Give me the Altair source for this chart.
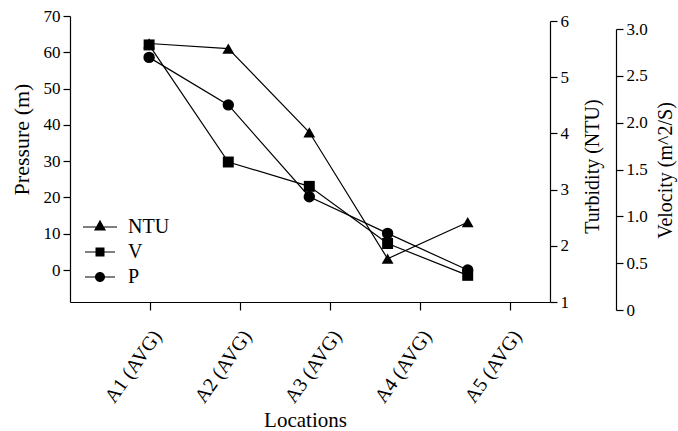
import json
import altair as alt
import pandas as pd

# ---- data ----
locations = ["A1 (AVG)", "A2 (AVG)", "A3 (AVG)", "A4 (AVG)", "A5 (AVG)"]
tick_pos = [1, 2, 3, 4, 5]
point_pos = [0.99, 1.87, 2.77, 3.64, 4.53]
pressure = [58.6, 45.5, 20.2, 10.1, 0.0]      # P (m)
turbidity = [5.60, 5.51, 4.02, 1.77, 2.42]    # NTU
velocity = [2.83, 1.58, 1.32, 0.71, 0.37]     # V (m^2/S)
series = ["NTU", "V", "P"]

pressure_ticks = [0, 10, 20, 30, 40, 50, 60, 70]
turbidity_ticks = [1, 2, 3, 4, 5, 6]
velocity_ticks = [0, 0.5, 1.0, 1.5, 2.0, 2.5, 3.0]

df = pd.DataFrame({
    "pos": point_pos,
    "loc": locations,
    "P": pressure,
    "NTU": turbidity,
    "V": velocity,
})
legend_df = pd.DataFrame({"series": series, "pos": point_pos[:3]})

FONT = "'Liberation Serif', 'DejaVu Serif', serif"
W, H = 480, 286

label_expr = json.dumps(locations) + "[datum.value - 1]"
x_enc = alt.X(
    "pos:Q",
    scale=alt.Scale(domain=[1 - 80 / 90, 5 + 40 / 90], nice=False, zero=False),
    axis=alt.Axis(
        values=tick_pos, labelExpr=label_expr, labelAngle=-55,
        labelAlign="right", labelBaseline="middle", labelOffset=7,
        labelPadding=22, labelFontSize=20, tickSize=8, title="Locations",
        titleX=235, titleY=118, titleAlign="center", titleBaseline="middle",
        titleFontSize=21, grid=False,
    ),
)

common_axis = dict(grid=False, labelFontSize=17, titleFontSize=20, tickSize=7,
                   labelPadding=3, titleAlign="center", titleBaseline="middle",
                   titleAngle=270)


def layer(field, shape, size, y_scale, y_axis):
    y = alt.Y(f"{field}:Q", scale=y_scale, axis=y_axis)
    base = alt.Chart(df).encode(x=x_enc, y=y)
    line = base.mark_line(color="black", strokeWidth=1.2)
    pts = base.mark_point(filled=True, color="black", opacity=1, shape=shape, size=size)
    return line + pts


p_axis = dict(common_axis)
p_axis["titleFontSize"] = 22
p_layer = layer(
    "P", "circle", 130,
    alt.Scale(domain=[-8.8, 70], nice=False, zero=False),
    alt.Axis(values=pressure_ticks, orient="left", title="Pressure (m)",
             titleX=-49, titleY=123, **p_axis),
)
ntu_layer = layer(
    "NTU", "triangle-up", 140,
    alt.Scale(domain=[1, 6], range=[H, 5], nice=False, zero=False),
    alt.Axis(values=turbidity_ticks, orient="right", title="Turbidity (NTU)",
             titleX=42, titleY=150, **common_axis),
)
v_layer = layer(
    "V", "square", 120,
    alt.Scale(domain=[0, 3], range=[H + 8, 13], nice=False, zero=False),
    alt.Axis(values=velocity_ticks, orient="right", offset=66,
             title="Velocity (m^2/S)",
             labelExpr="datum.value == 0 ? '0' : format(datum.value, '.1f')",
             titleX=49, titleY=154, **common_axis),
)

# legend symbols: thin bar (line) with marker, all filled (unit box = 20 px)
legend_paths = [
    "M-1.7,-0.06L1.7,-0.06L1.7,0.06L-1.7,0.06ZM0,-0.72L0.6,0.36L-0.6,0.36Z",
    "M-1.5,-0.06L1.5,-0.06L1.5,0.06L-1.5,0.06ZM-0.45,-0.45L0.45,-0.45L0.45,0.45L-0.45,0.45Z",
    "M-1.5,-0.06L1.5,-0.06L1.5,0.06L-1.5,0.06ZM-0.5,0A0.5,0.5 0 1,1 0.5,0A0.5,0.5 0 1,1 -0.5,0Z",
]
legend_layer = alt.Chart(legend_df).mark_point(
    filled=True, color="black", fill="black", opacity=0,
).encode(
    x=alt.X("pos:Q"),
    y=alt.value(0),
    shape=alt.Shape(
        "series:N",
        scale=alt.Scale(domain=series, range=legend_paths),
        legend=alt.Legend(
            orient="none", legendX=20, legendY=201, title=None,
            symbolSize=400, symbolFillColor="black", symbolStrokeWidth=0,
            symbolOpacity=1, labelFontSize=20,
            labelFont=FONT, labelColor="black", labelOffset=18, rowPadding=5,
        ),
    ),
)

chart = (
    alt.layer(p_layer, v_layer, ntu_layer, legend_layer)
    .resolve_scale(y="independent", shape="independent")
    .properties(
        width=W, height=H, autosize="none",
        padding={"left": 70, "top": 16, "right": 128, "bottom": 129},
        background="white",
    )
    .configure_view(stroke=None)
    .configure_axis(
        labelFont=FONT, titleFont=FONT, labelColor="black", titleColor="black",
        domainColor="black", tickColor="black", titleFontWeight="normal",
        labelFontSize=17, domainWidth=1.2, tickWidth=1.2,
    )
)

chart.save("out.html", embed_options={"renderer": "svg", "actions": False})
